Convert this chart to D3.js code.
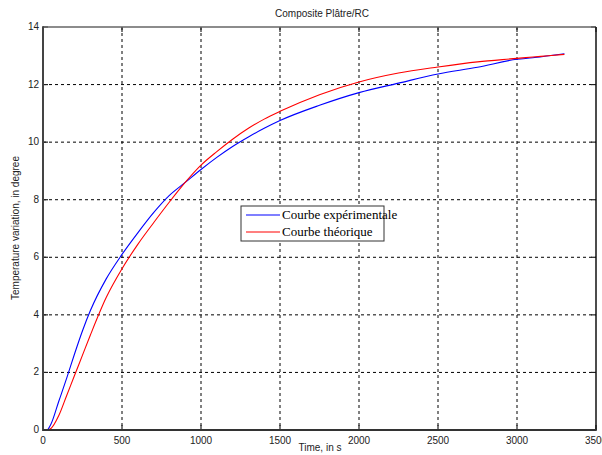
<!DOCTYPE html>
<html>
<head>
<meta charset="utf-8">
<script src="https://cdn.jsdelivr.net/npm/d3@7"></script>
<style>
  body { margin: 0; background: #fff; }
  .tick-label { font-family: "Liberation Sans", Arial, sans-serif; font-size: 10px; fill: #222; }
  .legend-text { font-family: "Liberation Serif", "Times New Roman", serif; font-size: 13px; fill: #000; }
</style>
</head>
<body>
<div id="chart"></div>
<script>
// Time values (s)
const times = [0, 25, 50, 100, 150, 200, 250, 300, 400, 500, 600, 700, 800, 900, 1000,
  1100, 1200, 1300, 1400, 1500, 1750, 2000, 2250, 2500, 2750, 3000, 3100, 3200, 3300];

// Experimental curve (blue)
const experimental = [0, 0, 0.2, 1.0, 1.8, 2.65, 3.45, 4.15, 5.25, 6.1, 6.85, 7.55, 8.15, 8.6, 9.05,
  9.47, 9.85, 10.18, 10.48, 10.75, 11.28, 11.72, 12.05, 12.37, 12.6, 12.88, 12.93, 13.0, 13.07];

// Theoretical curve (red)
const theoretical = [0, 0, 0.05, 0.5, 1.2, 1.9, 2.6, 3.3, 4.6, 5.6, 6.45, 7.2, 7.92, 8.6, 9.2,
  9.67, 10.1, 10.48, 10.8, 11.07, 11.65, 12.09, 12.4, 12.61, 12.79, 12.91, 12.96, 13.0, 13.05];

const xTicks = [0, 500, 1000, 1500, 2000, 2500, 3000, 3500];
const yTicks = [0, 2, 4, 6, 8, 10, 12, 14];

const seriesNames = ['Courbe expérimentale', 'Courbe théorique'];
const seriesColors = ['#0000ff', '#ff0000'];

const width = 602, height = 455;
const margin = { top: 27, right: 6, bottom: 25, left: 43 };
const innerW = width - margin.left - margin.right;
const innerH = height - margin.top - margin.bottom;

const svg = d3.select('#chart').append('svg')
  .attr('width', width)
  .attr('height', height);

const g = svg.append('g')
  .attr('transform', `translate(${margin.left},${margin.top})`);

const x = d3.scaleLinear().domain([0, 3500]).range([0, innerW]);
const y = d3.scaleLinear().domain([0, 14]).range([innerH, 0]);

// Grid lines (dashed)
g.selectAll('.vgrid')
  .data(xTicks.slice(1, -1))
  .enter().append('line')
  .attr('x1', d => x(d)).attr('x2', d => x(d))
  .attr('y1', 0).attr('y2', innerH)
  .attr('stroke', '#000')
  .attr('stroke-width', 1)
  .attr('stroke-dasharray', '3,3');

g.selectAll('.hgrid')
  .data(yTicks.slice(1, -1))
  .enter().append('line')
  .attr('x1', 0).attr('x2', innerW)
  .attr('y1', d => y(d)).attr('y2', d => y(d))
  .attr('stroke', '#000')
  .attr('stroke-width', 1)
  .attr('stroke-dasharray', '3,3');

// Inward tick marks
xTicks.forEach(t => {
  g.append('line').attr('x1', x(t)).attr('x2', x(t)).attr('y1', innerH).attr('y2', innerH - 5)
    .attr('stroke', '#222').attr('stroke-width', 1.2);
  g.append('line').attr('x1', x(t)).attr('x2', x(t)).attr('y1', 0).attr('y2', 5)
    .attr('stroke', '#222').attr('stroke-width', 1.2);
});
yTicks.forEach(t => {
  g.append('line').attr('x1', 0).attr('x2', 5).attr('y1', y(t)).attr('y2', y(t))
    .attr('stroke', '#222').attr('stroke-width', 1.2);
  g.append('line').attr('x1', innerW).attr('x2', innerW - 5).attr('y1', y(t)).attr('y2', y(t))
    .attr('stroke', '#222').attr('stroke-width', 1.2);
});

// Curves
const line = d3.line()
  .x(d => x(d[0]))
  .y(d => y(d[1]))
  .curve(d3.curveMonotoneX);

[experimental, theoretical].forEach((vals, i) => {
  g.append('path')
    .datum(times.map((t, j) => [t, vals[j]]))
    .attr('fill', 'none')
    .attr('stroke', seriesColors[i])
    .attr('stroke-width', 1.1)
    .attr('d', line);
});

// Axes box
g.append('line').attr('x1', 0).attr('x2', innerW).attr('y1', 0).attr('y2', 0)
  .attr('stroke', '#666').attr('stroke-width', 1.5);
g.append('line').attr('x1', innerW).attr('x2', innerW).attr('y1', 0).attr('y2', innerH)
  .attr('stroke', '#111').attr('stroke-width', 1.5);
g.append('line').attr('x1', 0).attr('x2', 0).attr('y1', -0.75).attr('y2', innerH + 1)
  .attr('stroke', '#444').attr('stroke-width', 2);
g.append('line').attr('x1', 0).attr('x2', innerW + 0.75).attr('y1', innerH).attr('y2', innerH)
  .attr('stroke', '#333').attr('stroke-width', 2);

// Tick labels
g.selectAll('.xlab')
  .data(xTicks)
  .enter().append('text')
  .attr('class', 'tick-label')
  .attr('x', d => x(d))
  .attr('y', innerH + 14)
  .attr('text-anchor', 'middle')
  .text(d => d);

g.selectAll('.ylab')
  .data(yTicks)
  .enter().append('text')
  .attr('class', 'tick-label')
  .attr('x', -4)
  .attr('y', d => y(d) + 3)
  .attr('text-anchor', 'end')
  .text(d => d);

// Title and axis labels
svg.append('text')
  .attr('class', 'tick-label')
  .attr('x', 322).attr('y', 17)
  .attr('text-anchor', 'middle')
  .text('Composite Plâtre/RC');

svg.append('text')
  .attr('class', 'tick-label')
  .attr('x', 320).attr('y', 451)
  .attr('text-anchor', 'middle')
  .text('Time, in s');

svg.append('text')
  .attr('class', 'tick-label')
  .attr('transform', 'translate(19,228) rotate(-90)')
  .attr('text-anchor', 'middle')
  .text('Temperature variation, in degree');

// Legend
const legend = svg.append('g').attr('transform', 'translate(241,206)');
legend.append('rect')
  .attr('width', 143).attr('height', 35)
  .attr('fill', '#fff')
  .attr('stroke', '#333')
  .attr('stroke-width', 1);

seriesNames.forEach((name, i) => {
  const ly = 9 + i * 17;
  legend.append('line')
    .attr('x1', 5).attr('x2', 39)
    .attr('y1', ly).attr('y2', ly)
    .attr('stroke', seriesColors[i])
    .attr('stroke-width', 1.1);
  legend.append('text')
    .attr('class', 'legend-text')
    .attr('x', 41).attr('y', ly + 4)
    .text(name);
});
</script>
</body>
</html>
